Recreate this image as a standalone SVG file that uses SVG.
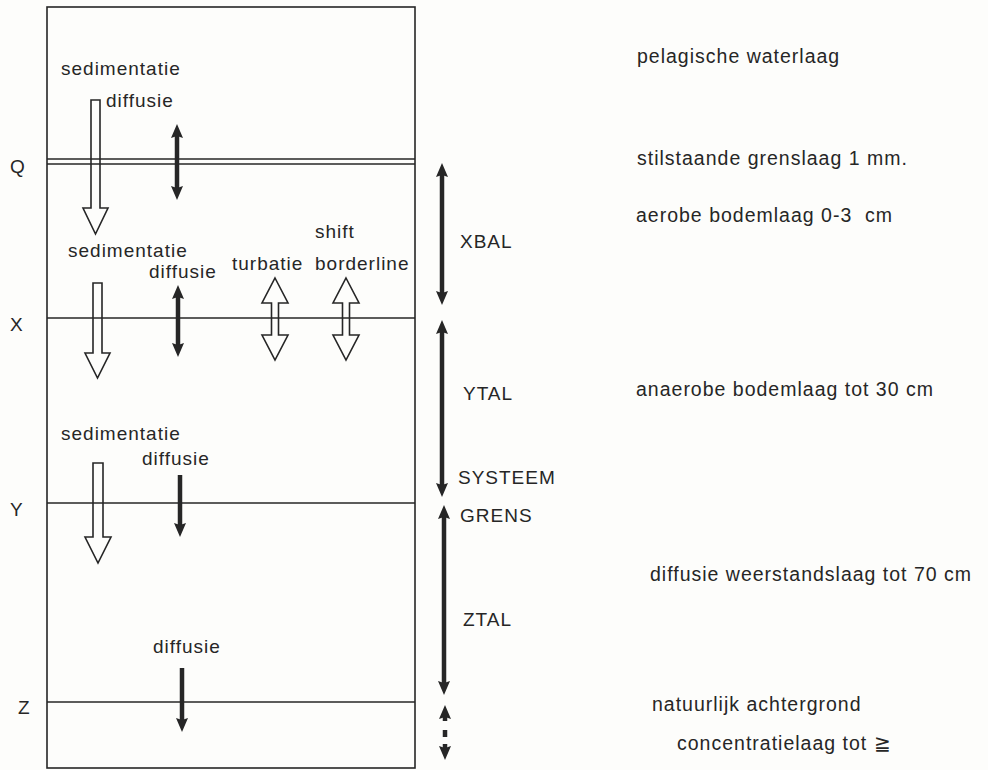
<svg xmlns="http://www.w3.org/2000/svg" width="988" height="770" viewBox="0 0 988 770">
<style>
text{font-family:"Liberation Sans",Arial,sans-serif;font-size:19px;fill:#262626;letter-spacing:1px}
.r{font-size:19.5px}
.pre{white-space:pre}
.ln{stroke:#262626;stroke-width:1.6;fill:none}
.hol{stroke:#262626;stroke-width:1.6;fill:none;stroke-linejoin:miter}
.sol{stroke:#262626;stroke-width:4.5;fill:none}
</style>
<defs>
<marker id="ah" viewBox="0 0 14 12" refX="3" refY="6" markerWidth="14" markerHeight="12" markerUnits="userSpaceOnUse" orient="auto-start-reverse">
<path d="M0,0 L14,6 L0,12 L2,6 Z" fill="#262626"/>
</marker>
</defs>
<rect width="988" height="770" fill="#fdfdfb"/>
<g id="box">
<rect x="47" y="7" width="368" height="761" class="ln"/>
<line x1="47" y1="159" x2="415" y2="159" class="ln"/>
<line x1="47" y1="164" x2="415" y2="164" class="ln"/>
<line x1="47" y1="318" x2="415" y2="318" class="ln"/>
<line x1="47" y1="503" x2="415" y2="503" class="ln"/>
<line x1="47" y1="702" x2="415" y2="702" class="ln"/>
</g>
<g id="levels">
<text x="10" y="173">Q</text>
<text x="10" y="331">X</text>
<text x="10" y="516">Y</text>
<text x="18" y="714">Z</text>
</g>
<g id="layer1">
<text x="61" y="75">sedimentatie</text>
<text x="106" y="107">diffusie</text>
</g>
<g id="layer2">
<text x="68" y="257">sedimentatie</text>
<text x="149" y="278">diffusie</text>
<text x="232" y="270">turbatie</text>
<text x="315" y="238">shift</text>
<text x="315" y="270">borderline</text>
</g>
<g id="layer3">
<text x="61" y="440">sedimentatie</text>
<text x="142" y="465">diffusie</text>
</g>
<g id="layer4">
<text x="153" y="653">diffusie</text>
</g>
<g id="zones">
<text x="460" y="248">XBAL</text>
<text x="463" y="400">YTAL</text>
<text x="458" y="484">SYSTEEM</text>
<text x="460" y="522">GRENS</text>
<text x="463" y="626">ZTAL</text>
</g>
<g id="descriptions">
<text class="r" x="637" y="63">pelagische waterlaag</text>
<text class="r" x="637" y="165">stilstaande grenslaag 1 mm.</text>
<text class="r pre" x="636" y="222" xml:space="preserve">aerobe bodemlaag 0-3  cm</text>
<text class="r" x="636" y="396">anaerobe bodemlaag tot 30 cm</text>
<text class="r" x="650" y="581">diffusie weerstandslaag tot 70 cm</text>
<text class="r" x="652" y="711">natuurlijk achtergrond</text>
<text class="r" x="677" y="750">concentratielaag tot ≧</text>
</g>
<g id="connectors">
<polygon class="hol" points="91,100 100,100 100,208 108,208 95.5,234 83,208 91,208"/>
<polygon class="hol" points="93,283 102,283 102,353 110,353 97.5,378 85,353 93,353"/>
<polygon class="hol" points="93,463 103,463 103,537 111,537 98,563 85,537 93,537"/>
<polygon class="hol" points="275,278 288,303 278.5,303 278.5,335 288,335 275,360 262,335 271.5,335 271.5,303 262,303"/>
<polygon class="hol" points="346,278 359,303 349.5,303 349.5,335 359,335 346,360 333,335 342.5,335 342.5,303 333,303"/>
<line class="sol" x1="177" y1="135" x2="177" y2="189" marker-start="url(#ah)" marker-end="url(#ah)"/>
<line class="sol" x1="178" y1="296" x2="178" y2="346" marker-start="url(#ah)" marker-end="url(#ah)"/>
<line class="sol" x1="180" y1="475" x2="180" y2="526" marker-end="url(#ah)"/>
<line class="sol" x1="182" y1="668" x2="182" y2="721" marker-end="url(#ah)"/>
<line class="sol" x1="442" y1="174" x2="442" y2="294" marker-start="url(#ah)" marker-end="url(#ah)"/>
<line class="sol" x1="442" y1="331" x2="442" y2="486" marker-start="url(#ah)" marker-end="url(#ah)"/>
<line class="sol" x1="444" y1="516" x2="444" y2="684" marker-start="url(#ah)" marker-end="url(#ah)"/>
<line class="sol" x1="445" y1="716" x2="445" y2="721" marker-start="url(#ah)"/>
<line class="sol" x1="445" y1="730" x2="445" y2="737"/>
<line class="sol" x1="445" y1="744" x2="445" y2="749" marker-end="url(#ah)"/>
</g>
</svg>
